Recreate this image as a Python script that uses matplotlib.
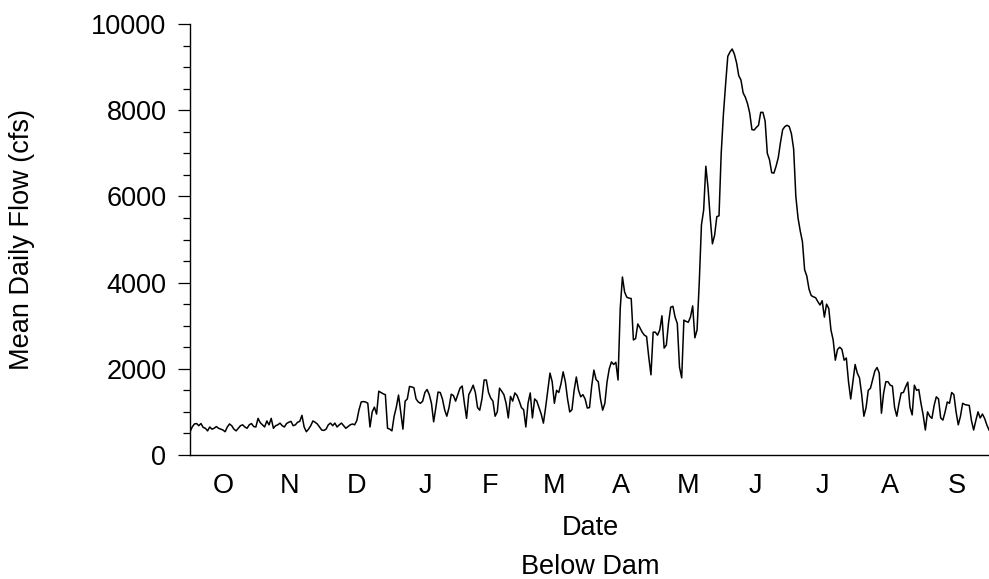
import numpy as np
import matplotlib
matplotlib.use("Agg")
import matplotlib.pyplot as plt
from matplotlib.ticker import MultipleLocator

plt.rcParams['font.family'] = ['Liberation Sans', 'DejaVu Sans']

# mean daily flow (cfs), water year Oct -> Sep
oct_flow = [540, 650, 720, 730, 680, 730, 640, 620, 560, 650, 600, 620, 660, 620, 600, 580,
            540, 650, 720, 680, 600, 560, 620, 680, 700, 650, 620, 700, 730, 660, 650]
nov_flow = [850, 750, 700, 650, 790, 700, 850, 620, 680, 700, 740, 680, 650, 730, 760,
            780, 680, 700, 760, 780, 920, 650, 540, 600, 680, 790, 760, 720, 650, 580]
dec_flow = [570, 600, 700, 740, 680, 740, 650, 700, 740, 680, 620, 660, 700, 720, 700, 800,
            1050, 1230, 1240, 1230, 1200, 650, 1000, 1110, 950, 1480, 1450, 1420, 1400, 620, 600]
jan_flow = [560, 900, 1110, 1390, 1000, 600, 1250, 1300, 1590, 1580, 1560, 1300, 1230, 1200,
            1250, 1450, 1520, 1400, 1200, 770, 1100, 1460, 1450, 1300, 1050, 900, 1100, 1410,
            1380, 1250, 1400]
feb_flow = [1550, 1600, 1200, 850, 1400, 1500, 1620, 1450, 1100, 1040, 1300, 1740, 1740, 1450,
            1320, 1250, 900, 1000, 1550, 1480, 1400, 1200, 860, 1360, 1250, 1440, 1380, 1250]
mar_flow = [1100, 1050, 650, 1200, 1440, 860, 1300, 1250, 1100, 950, 740, 1100, 1510, 1900,
            1700, 1200, 1500, 1450, 1650, 1930, 1700, 1300, 1000, 1050, 1500, 1810, 1500, 1350,
            1400, 1300, 1090]
apr_flow = [1100, 1600, 1970, 1750, 1700, 1300, 1040, 1200, 1700, 2000, 2160, 2100, 2150, 1740,
            3400, 4130, 3780, 3660, 3640, 3630, 2670, 2700, 3040, 2950, 2850, 2780, 2750, 2270,
            1860, 2850]
may_flow = [2850, 2780, 2900, 3230, 2480, 2550, 3060, 3430, 3450, 3200, 3050, 2040, 1790, 3130,
            3100, 3080, 3200, 3460, 2720, 2900, 4000, 5340, 5680, 6700, 6200, 5500, 4900, 5100,
            5530, 5550, 7000]
jun_flow = [7900, 8600, 9250, 9350, 9420, 9300, 9100, 8800, 8700, 8400, 8300, 8150, 7930, 7550,
            7540, 7600, 7650, 7950, 7950, 7750, 7000, 6850, 6550, 6540, 6700, 6900, 7250, 7550,
            7620, 7650]
jul_flow = [7620, 7450, 7100, 6000, 5500, 5200, 4950, 4300, 4150, 3850, 3700, 3670, 3650, 3560,
            3480, 3580, 3200, 3500, 3400, 2900, 2670, 2200, 2450, 2500, 2450, 2200, 2250, 1700,
            1300, 1700, 2100]
aug_flow = [1900, 1790, 1400, 900, 1100, 1500, 1550, 1750, 1950, 2030, 1900, 970, 1440, 1700,
            1700, 1620, 1600, 1100, 900, 1200, 1440, 1450, 1580, 1690, 1110, 930, 1620, 1500,
            1520, 1200, 930]
sep_flow = [580, 1000, 900, 850, 1150, 1350, 1300, 860, 810, 1000, 1230, 1200, 1450, 1400, 1000,
            700, 900, 1200, 1170, 1160, 1150, 800, 580, 800, 1000, 860, 950, 850, 700, 580]

month_labels = ['O', 'N', 'D', 'J', 'F', 'M', 'A', 'M', 'J', 'J', 'A', 'S']
months = [oct_flow, nov_flow, dec_flow, jan_flow, feb_flow, mar_flow,
          apr_flow, may_flow, jun_flow, jul_flow, aug_flow, sep_flow]

flow = np.concatenate(months)
day = np.arange(len(flow))

lens = np.array([len(m) for m in months])
starts = np.concatenate([[0], np.cumsum(lens)[:-1]])
centers = starts + (lens - 1) / 2.0

W, H = 989, 579
fig = plt.figure(figsize=(W / 100, H / 100), dpi=100)
ax = fig.add_axes([190/W, 1 - 455/H, 1 - 190/W, (455 - 24)/H])
ax.plot(day, flow, color='black', lw=1.1)

fs = 19.5
ax.set_xlim(0, len(flow) - 1)
ax.set_ylim(0, 10000)
ax.set_xticks(centers)
ax.set_xticklabels(month_labels)
ax.tick_params(axis='x', length=0, pad=13, labelsize=fs)
ax.yaxis.set_major_locator(MultipleLocator(2000))
ax.yaxis.set_minor_locator(MultipleLocator(500))
ax.tick_params(axis='y', which='major', length=9, width=0.9, labelsize=fs, pad=8)
ax.tick_params(axis='y', which='minor', length=4.8, width=0.9)

for s in ['top', 'right']:
    ax.spines[s].set_visible(False)
for s in ['left', 'bottom']:
    ax.spines[s].set_linewidth(1.0)

fig.text(22/W, 1 - 240/H, 'Mean Daily Flow (cfs)', fontsize=fs, rotation=90,
         ha='center', va='center')
fig.text(590/W, 1 - 528/H, 'Date', fontsize=fs, ha='center', va='center')
fig.text(590/W, 1 - 567/H, 'Below Dam', fontsize=fs, ha='center', va='center')

fig.savefig('out.png', dpi=100)
